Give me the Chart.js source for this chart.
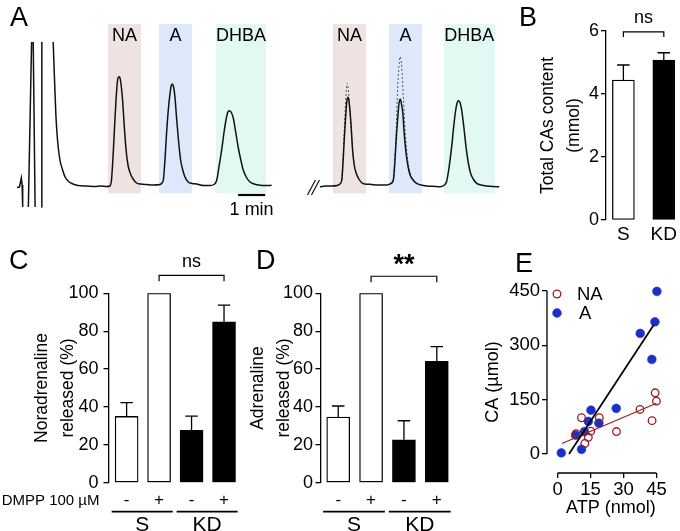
<!DOCTYPE html>
<html>
<head>
<meta charset="utf-8">
<script src="https://cdn.jsdelivr.net/npm/chart.js@4.4.0/dist/chart.umd.min.js"></script>
<style>
  body { margin: 0; background: #fff; }
  #fig { position: relative; width: 680px; height: 531px; overflow: hidden; font-family: "Liberation Sans", Arial, sans-serif; }
  #fig canvas { position: absolute; }
  .lbl { position: absolute; font-size: 27px; line-height: 1; color: #000; }
</style>
</head>
<body>
<div id="fig">
  <canvas id="chA" width="510" height="240" style="left:0;top:0"></canvas>
  <canvas id="chB" width="160" height="250" style="left:520px;top:0"></canvas>
  <canvas id="chC" width="250" height="281" style="left:0;top:250px"></canvas>
  <canvas id="chD" width="226" height="281" style="left:244px;top:250px"></canvas>
  <canvas id="chE" width="210" height="281" style="left:470px;top:250px"></canvas>
  <div class="lbl" style="left:10px;top:4px">A</div>
  <div class="lbl" style="left:519px;top:4px">B</div>
  <div class="lbl" style="left:9px;top:247px">C</div>
  <div class="lbl" style="left:256px;top:247px">D</div>
  <div class="lbl" style="left:515px;top:250px">E</div>
</div>
<script>
// ---- data ----
// A: chromatograms, time (min) vs detector signal (a.u.); null = off scale
var spikesLeft = [[0.00,-1.5],[0.09,-1],[0.13,4],[0.16,8],[0.19,1],[0.21,-21],[0.3,null],
  [0.42,-21],[0.54,144],[0.57,null],[0.60,144],[0.67,-21],[0.8,null],[0.90,-21],[0.92,144]];
var traceLeft = [[1.34,144],[1.39,106],[1.44,71],[1.50,46],[1.59,26],[1.69,16],[1.78,9],[1.89,5],
  [2.03,2.5],[2.26,0.5],[2.58,0],[2.89,-0.5],[3.11,0],[3.33,-0.5],[3.44,0],[3.50,6],[3.57,36],
  [3.63,68],[3.70,99],[3.74,108],[3.79,109.3],[3.83,106],[3.91,86],[3.97,61],[4.04,36],[4.11,21],
  [4.19,13],[4.30,7],[4.43,3],[4.59,2],[4.80,1.5],[5.04,1],[5.30,1.5],[5.37,3],[5.42,6],[5.48,26],
  [5.54,53],[5.61,78],[5.67,93],[5.71,100],[5.75,102],[5.80,99],[5.85,89],[5.91,68],[5.98,46],
  [6.06,26],[6.14,16],[6.22,9],[6.34,4],[6.48,2.5],[6.66,2],[6.78,1],[6.93,0.5],[7.15,0.5],
  [7.30,1.5],[7.40,6],[7.48,19],[7.58,36],[7.67,54],[7.74,66],[7.81,74],[7.86,75.3],[7.93,74],
  [8.01,68],[8.10,54],[8.19,39],[8.29,26],[8.38,16],[8.50,8.5],[8.63,4],[8.78,2],[9.00,0.7],
  [9.22,0.5],[9.43,0.7]];
var traceRight = [[11.22,-0.7],[11.44,0],[11.66,0],[11.85,0.5],[11.96,2],[12.03,6],[12.07,21],
  [12.12,46],[12.17,68],[12.21,83],[12.25,88.7],[12.29,86],[12.33,76],[12.38,58],[12.43,36],
  [12.49,21],[12.56,13],[12.65,7.5],[12.77,3.3],[12.89,2],[13.07,1.7],[13.37,1],[13.69,1],
  [13.81,2],[13.94,6],[14.00,26],[14.06,53],[14.11,71],[14.15,83],[14.20,86.7],[14.24,82],
  [14.29,73],[14.34,53],[14.41,33],[14.48,20],[14.56,11],[14.67,6],[14.80,2.7],[14.96,1],
  [15.17,0],[15.41,-0.3],[15.67,-0.7],[15.80,0.5],[15.91,4.3],[16.00,18],[16.10,39.3],[16.18,61],
  [16.25,76],[16.30,83],[16.34,85.3],[16.40,84],[16.47,76],[16.55,59],[16.63,39.3],[16.71,24],
  [16.80,12.7],[16.91,6.5],[17.03,2.7],[17.19,1],[17.40,0],[17.63,-0.5],[17.86,-0.7]];
var controlNA = [[12.03,6],[12.08,30],[12.13,62],[12.18,88],[12.23,102.7],[12.28,94],[12.33,76],
  [12.38,56],[12.43,36],[12.49,21],[12.56,13]];
var controlA = [[13.94,6],[14.00,30],[14.05,60],[14.08,86],[14.13,113],[14.19,129.3],[14.25,119.3],
  [14.31,89.3],[14.38,53],[14.46,29],[14.56,13],[14.67,6]];
var scaleBar = [[8.19,-9],[9.19,-9]];
var bandLabels = ['NA', 'A', 'DHBA', 'NA', 'A', 'DHBA'];
var bandFrom = [3.37, 5.26, 7.37, 11.70, 13.78, 15.81];
var bandTo = [4.59, 6.48, 9.22, 12.93, 15.00, 17.70];

// B: total catecholamine content (mmol)
var bCats = ['S', 'KD'];
var bMean = [4.44, 5.08];
var bSem = [0.48, 0.23];

// C, D: release with DMPP (% of control)
var barSigns = ['-', '+', '-', '+'];
var barGroup = ['S', 'S', 'KD', 'KD'];
var cMean = [35.0, 100, 27.6, 85.0];
var cSem = [7.3, 0, 7.6, 8.8];
var dMean = [34.7, 100, 22.7, 64.1];
var dSem = [5.8, 0, 10.0, 7.7];

// E: CA vs ATP
var naAtp = [8.4, 10.9, 12.4, 14.0, 15.1, 19.0, 26.8, 37.5, 43.0, 44.4, 45.0];
var naCa = [56, 100, 29, 46, 63, 100, 62, 123, 92, 169, 146];
var aAtp = [1.7, 10.9, 8.2, 12.2, 14.0, 15.2, 18.8, 26.7, 37.6, 42.9, 44.3, 45.2];
var aCa = [3, 13, 52, 62, 90, 121, 85, 126, 333, 261, 365, 449];
var naFit = [[2.0, 29], [45.0, 140]];
var aFit = [[5.2, 0], [43.8, 357]];
var eTicksX = [0, 15, 30, 45];
var eTicksY = [0, 150, 300, 450];

// ---- helpers / plugins ----
var FONT = '"Liberation Sans", Arial, sans-serif';
Chart.defaults.font.family = FONT;
Chart.defaults.color = '#000';
Chart.defaults.animation = false;

function xy(pairs) { return pairs.map(p => ({ x: p[0], y: p[1] })); }

var bandsPlugin = {
  id: 'bands',
  beforeDatasetsDraw(chart, args, o) {
    var x = chart.scales.x, y = chart.scales.y, ctx = chart.ctx;
    var top = y.getPixelForValue(o.top), bot = y.getPixelForValue(o.bottom);
    ctx.save();
    bandLabels.forEach(function (name, i) {
      var l = x.getPixelForValue(bandFrom[i]), r = x.getPixelForValue(bandTo[i]);
      ctx.fillStyle = o.colors[name];
      ctx.fillRect(l, top, r - l, bot - top);
      ctx.fillStyle = '#000';
      ctx.font = o.font;
      ctx.textAlign = 'center';
      ctx.textBaseline = 'middle';
      ctx.fillText(name, (l + r) / 2, y.getPixelForValue(o.labelAt));
    });
    // scale bar text
    var mid = (scaleBar[0][0] + scaleBar[1][0]) / 2;
    ctx.fillText('1 min', x.getPixelForValue(mid), y.getPixelForValue(scaleBar[0][1]) + 15);
    // axis break
    var bx = x.getPixelForValue(o.breakAt), by = y.getPixelForValue(0);
    ctx.strokeStyle = '#111';
    ctx.lineWidth = 1.2;
    ctx.beginPath();
    ctx.moveTo(bx - 6, by + 9); ctx.lineTo(bx + 2, by - 6);
    ctx.moveTo(bx - 2, by + 9); ctx.lineTo(bx + 6, by - 6);
    ctx.stroke();
    ctx.restore();
  }
};

var errorBars = {
  id: 'errorBars',
  afterDatasetsDraw(chart, args, o) {
    var meta = chart.getDatasetMeta(0), y = chart.scales.y, ctx = chart.ctx;
    var data = chart.data.datasets[0].data;
    ctx.save();
    ctx.strokeStyle = '#000';
    ctx.lineWidth = 1.3;
    meta.data.forEach(function (bar, i) {
      var sem = o.sem[i];
      if (!sem) return;
      var top = y.getPixelForValue(data[i].y + sem);
      ctx.beginPath();
      ctx.moveTo(bar.x, bar.y);
      ctx.lineTo(bar.x, top);
      ctx.moveTo(bar.x - o.cap / 2, top);
      ctx.lineTo(bar.x + o.cap / 2, top);
      ctx.stroke();
    });
    ctx.restore();
  }
};

var bracket = {
  id: 'bracket',
  afterDraw(chart, args, o) {
    var xs = chart.scales.x, ys = chart.scales.y, ctx = chart.ctx;
    var x1 = xs.getPixelForValue(o.from), x2 = xs.getPixelForValue(o.to), yb = ys.getPixelForValue(o.y);
    ctx.save();
    ctx.strokeStyle = '#000';
    ctx.lineWidth = 1.2;
    ctx.beginPath();
    ctx.moveTo(x1, yb + o.leg); ctx.lineTo(x1, yb); ctx.lineTo(x2, yb); ctx.lineTo(x2, yb + o.leg);
    ctx.stroke();
    ctx.fillStyle = '#000';
    ctx.font = o.font;
    ctx.textAlign = 'center';
    ctx.textBaseline = 'middle';
    ctx.fillText(o.label, (x1 + x2) / 2, yb - o.gap);
    ctx.restore();
  }
};

var groupAxis = {
  id: 'groupAxis',
  afterDraw(chart, args, o) {
    var xs = chart.scales.x, ctx = chart.ctx, base = chart.chartArea.bottom;
    ctx.save();
    ctx.fillStyle = '#000';
    ctx.strokeStyle = '#000';
    ctx.textBaseline = 'middle';
    ctx.font = '17px ' + FONT;
    ctx.textAlign = 'center';
    barSigns.forEach(function (s, i) { ctx.fillText(s, xs.getPixelForValue(i + 1), base + 18); });
    if (o.rowLabel) {
      ctx.textAlign = 'right';
      ctx.font = '15px ' + FONT;
      ctx.fillText(o.rowLabel, chart.chartArea.left - 9, base + 18);
    }
    ctx.font = '21px ' + FONT;
    ctx.textAlign = 'center';
    ctx.lineWidth = 1.8;
    ['S', 'KD'].forEach(function (g) {
      var idx = [];
      barGroup.forEach(function (b, i) { if (b === g) idx.push(i + 1); });
      var a = xs.getPixelForValue(idx[0] - 0.46), b = xs.getPixelForValue(idx[idx.length - 1] + 0.42);
      ctx.beginPath();
      ctx.moveTo(a, base + 29); ctx.lineTo(b, base + 29);
      ctx.stroke();
      ctx.fillText(g, (a + b) / 2, base + 43);
    });
    ctx.restore();
  }
};

var axisLines = {
  id: 'axisLines',
  afterDraw(chart, args, o) {
    var x = chart.scales.x, y = chart.scales.y, ctx = chart.ctx, ca = chart.chartArea;
    ctx.save();
    ctx.strokeStyle = '#000';
    ctx.lineWidth = 1.3;
    ctx.beginPath();
    ctx.moveTo(ca.left, y.getPixelForValue(eTicksY[0]));
    ctx.lineTo(ca.left, y.getPixelForValue(eTicksY[eTicksY.length - 1]));
    ctx.moveTo(x.getPixelForValue(eTicksX[0]), ca.bottom);
    ctx.lineTo(x.getPixelForValue(eTicksX[eTicksX.length - 1]), ca.bottom);
    ctx.stroke();
    // inset legend
    ctx.font = '18.5px ' + FONT;
    ctx.textBaseline = 'middle';
    ctx.textAlign = 'left';
    o.legend.forEach(function (di, k) {
      var ds = chart.data.datasets[di];
      var cx = ca.left + 10, cy = ca.top + 3 + k * 19;
      ctx.beginPath();
      ctx.arc(cx, cy, ds.pointRadius, 0, Math.PI * 2);
      if (ds.pointBackgroundColor !== 'transparent') { ctx.fillStyle = ds.pointBackgroundColor; ctx.fill(); }
      ctx.strokeStyle = ds.pointBorderColor;
      ctx.lineWidth = ds.pointBorderWidth;
      ctx.stroke();
      ctx.fillStyle = '#000';
      ctx.fillText(ds.label, ca.left + 30 + (k ? 2 : 0), cy + 1);
    });
    ctx.restore();
  }
};

var yAxisStyle = function (title, titlePad, width, tickPad) {
  return {
    ticks: { font: { size: 18 }, padding: tickPad, color: '#000' },
    grid: { drawOnChartArea: false, tickLength: 5, color: '#000', lineWidth: 1.3 },
    border: { color: '#000', width: 1.3 },
    title: { display: true, text: title, color: '#000', font: { size: 17.5, lineHeight: 1.5 }, padding: { top: titlePad, bottom: 0 } },
    afterFit: function (s) { s.width = width; }
  };
};

var noUi = { legend: { display: false }, tooltip: { enabled: false } };

// ---- A ----
var traceStyle = { borderColor: '#111', borderWidth: 1.5, pointRadius: 0, cubicInterpolationMode: 'monotone', clip: false };
new Chart('chA', {
  type: 'line',
  data: {
    datasets: [
      Object.assign({ data: xy(traceLeft) }, traceStyle),
      Object.assign({ data: xy(traceRight) }, traceStyle),
      { data: xy(spikesLeft), borderColor: '#111', borderWidth: 1.5, pointRadius: 0, spanGaps: false },
      { data: xy(scaleBar), borderColor: '#000', borderWidth: 2.2, pointRadius: 0 },
      { data: xy(controlNA), borderColor: '#555', borderWidth: 1, borderDash: [2, 2], pointRadius: 0, cubicInterpolationMode: 'monotone' },
      { data: xy(controlA), borderColor: '#555', borderWidth: 1, borderDash: [2, 2], pointRadius: 0, cubicInterpolationMode: 'monotone' }
    ]
  },
  options: {
    responsive: false,
    layout: { padding: 0 },
    scales: {
      x: { type: 'linear', display: false, min: -0.63, max: 18.26 },
      y: { display: false, min: -54, max: 186 }
    },
    plugins: Object.assign({
      bands: { top: 162, bottom: -7.3, labelAt: 150, breakAt: 10.98, font: '18px ' + FONT,
        colors: { NA: '#efe3e1', A: '#dde9fa', DHBA: '#e2f8f3' } }
    }, noUi)
  },
  plugins: [bandsPlugin]
});

// ---- B ----
new Chart('chB', {
  type: 'bar',
  data: {
    datasets: [{
      data: bMean.map((v, i) => ({ x: i + 1, y: v })),
      backgroundColor: ['#fff', '#000'], borderColor: '#000', borderWidth: 1.3,
      borderSkipped: false, barThickness: 22
    }]
  },
  options: {
    responsive: false,
    layout: { padding: { top: 31, right: 0, bottom: 0, left: 0 } },
    scales: {
      x: {
        type: 'linear', offset: false, min: 0.57, max: 2.38,
        afterBuildTicks: s => { s.ticks = bCats.map((c, i) => ({ value: i + 1 })); },
        ticks: { callback: v => bCats[v - 1], font: { size: 19 }, padding: 3, color: '#000' },
        grid: { display: false, drawTicks: false }, border: { display: false },
        afterFit: s => { s.height = 30; }
      },
      y: Object.assign({ min: 0, max: 6 }, yAxisStyle(['Total CAs content', '(mmol)'], 14.8, 86, 2))
    },
    plugins: Object.assign({
      errorBars: { sem: bSem, cap: 12.5 },
      bracket: { from: 1, to: 2, y: 5.97, leg: 5, gap: 14, label: 'ns', font: '18px ' + FONT }
    }, noUi)
  },
  plugins: [errorBars, bracket]
});
Chart.getChart('chB').options.scales.y.ticks.stepSize = 2;
Chart.getChart('chB').update();

// ---- C & D ----
function releaseChart(id, mean, sem, title, titlePad, yWidth, tickPad, xMin, xMax, br, rowLabel) {
  var y = Object.assign({ min: 0, max: 100 }, yAxisStyle(title, titlePad, yWidth, tickPad));
  y.ticks.stepSize = 20;
  return new Chart(id, {
    type: 'bar',
    data: {
      datasets: [{
        data: mean.map((v, i) => ({ x: i + 1, y: v })),
        backgroundColor: barGroup.map(g => g === 'S' ? '#fff' : '#000'),
        borderColor: '#000', borderWidth: 1.3, borderSkipped: false, barThickness: 23
      }]
    },
    options: {
      responsive: false,
      layout: { padding: { top: 43.3, right: 0, bottom: 48.3, left: 0 } },
      scales: {
        x: { type: 'linear', offset: false, display: false, min: xMin, max: xMax },
        y: y
      },
      plugins: Object.assign({
        errorBars: { sem: sem, cap: 12.5 },
        bracket: br,
        groupAxis: { rowLabel: rowLabel }
      }, noUi)
    },
    plugins: [errorBars, bracket, groupAxis]
  });
}
releaseChart('chC', cMean, cSem, ['Noradrenaline', 'released (%)'], 29, 108.5, 5, 0.442, 4.80,
  { from: 2, to: 4, y: 109.5, leg: 6, gap: 13, label: 'ns', font: '18px ' + FONT }, 'DMPP 100 \u00b5M');
releaseChart('chD', dMean, dSem, ['Adrenaline', 'released (%)'], 1, 76.5, 2.5, 0.461, 5.01,
  { from: 2, to: 4, y: 109, leg: 6, gap: 11, label: '**', font: 'bold 27px ' + FONT }, null);

// ---- E ----
new Chart('chE', {
  type: 'scatter',
  data: {
    datasets: [
      { data: xy(aFit), showLine: true, borderColor: '#000', borderWidth: 1.7, pointRadius: 0, clip: false },
      { data: xy(naFit), showLine: true, borderColor: '#9a1b1e', borderWidth: 1.2, pointRadius: 0, clip: false },
      { label: 'NA', data: naAtp.map((v, i) => ({ x: v, y: naCa[i] })), pointRadius: 3.8,
        pointBackgroundColor: 'transparent', pointBorderColor: '#9a1b1e', pointBorderWidth: 1.3, clip: false },
      { label: 'A', data: aAtp.map((v, i) => ({ x: v, y: aCa[i] })), pointRadius: 4.4,
        pointBackgroundColor: '#1b2fc9', pointBorderColor: '#1b2fc9', pointBorderWidth: 0.5, clip: false }
    ]
  },
  options: {
    responsive: false,
    layout: { padding: { top: 41, right: 0, bottom: 0, left: 0 } },
    scales: {
      x: {
        type: 'linear', min: -4.81, max: 53.3,
        afterBuildTicks: s => { s.ticks = eTicksX.map(v => ({ value: v })); },
        ticks: { font: { size: 18.5 }, padding: 1, color: '#000' },
        grid: { drawOnChartArea: false, tickLength: 5, color: '#000', lineWidth: 1.3 },
        border: { display: false },
        title: { display: true, text: 'ATP (nmol)', color: '#000', font: { size: 18 }, padding: { top: 0, bottom: 12.2 } },
        afterFit: s => { s.height = 58; }
      },
      y: {
        min: -52.5, max: 450,
        afterBuildTicks: s => { s.ticks = eTicksY.map(v => ({ value: v })); },
        ticks: { font: { size: 18.5 }, padding: 2, color: '#000' },
        grid: { drawOnChartArea: false, tickLength: 5, color: '#000', lineWidth: 1.3 },
        border: { display: false },
        title: { display: true, text: 'CA (\u00b5mol)', color: '#000', font: { size: 18 }, padding: { top: 12.2, bottom: 0 } },
        afterFit: s => { s.width = 77; }
      }
    },
    plugins: Object.assign({ axisLines: { legend: [2, 3] } }, noUi)
  },
  plugins: [axisLines]
});
</script>
</body>
</html>
